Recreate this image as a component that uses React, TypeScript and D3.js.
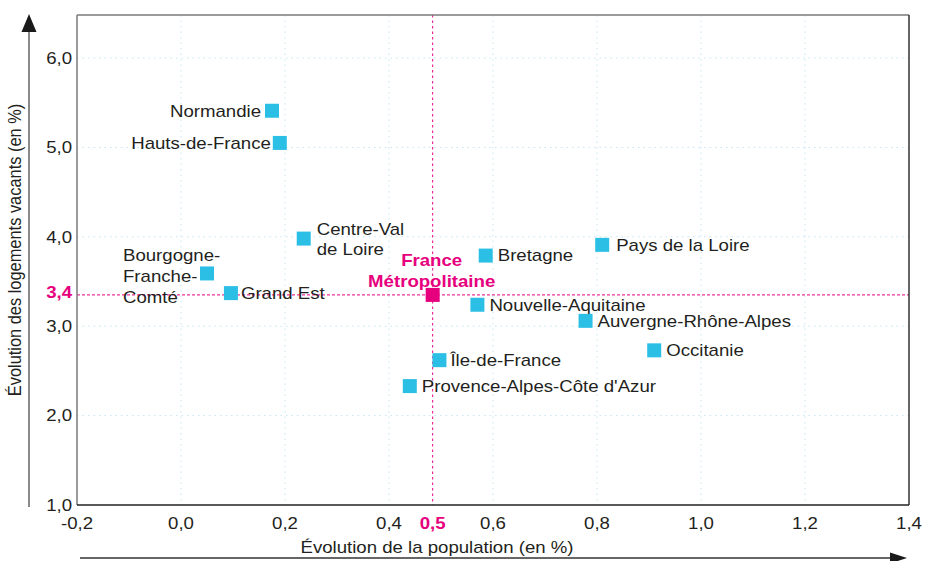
import React from "react";
import * as d3 from "d3";

// regions: population growth (%) vs vacant housing growth (%)
const regions = ["Normandie", "Hauts-de-France", "Centre-Val de Loire", "Bourgogne-Franche-Comté", "Grand Est", "Bretagne", "Pays de la Loire", "Nouvelle-Aquitaine", "Auvergne-Rhône-Alpes", "Occitanie", "Île-de-France", "Provence-Alpes-Côte d'Azur"];
const popGrowth = [0.175, 0.19, 0.236, 0.05, 0.096, 0.586, 0.81, 0.57, 0.778, 0.91, 0.497, 0.44];
const vacantGrowth = [5.41, 5.05, 3.98, 3.59, 3.37, 3.79, 3.91, 3.24, 3.06, 2.73, 2.62, 2.33];

const franceName = ["France", "Métropolitaine"];
const franceX = 0.484;
const franceY = 3.35;
const franceXLabel = "0,5";
const franceYLabel = "3,4";

const xTicks = [-0.2, 0, 0.2, 0.4, 0.6, 0.8, 1.0, 1.2, 1.4];
const yTicks = [1, 2, 3, 4, 5, 6];

const xTitle = "Évolution de la population (en %)";
const yTitle = "Évolution des logements vacants (en %)";

// label placement (lines, offset from marker centre, anchor)
const labelPlacement = {
  "Normandie": { lines: ["Normandie"], dx: -11, dy: [0], anchor: "end" },
  "Hauts-de-France": { lines: ["Hauts-de-France"], dx: -9, dy: [0], anchor: "end" },
  "Centre-Val de Loire": { lines: ["Centre-Val", "de Loire"], dx: 13, dy: [-9, 11], anchor: "start" },
  "Bourgogne-Franche-Comté": { lines: ["Bourgogne-", "Franche-", "Comté"], dx: -84, dy: [-18, 3, 24], anchor: "start" },
  "Grand Est": { lines: ["Grand Est"], dx: 10, dy: [0], anchor: "start" },
  "Bretagne": { lines: ["Bretagne"], dx: 12, dy: [0], anchor: "start" },
  "Pays de la Loire": { lines: ["Pays de la Loire"], dx: 14, dy: [0], anchor: "start" },
  "Nouvelle-Aquitaine": { lines: ["Nouvelle-Aquitaine"], dx: 12, dy: [0], anchor: "start" },
  "Auvergne-Rhône-Alpes": { lines: ["Auvergne-Rhône-Alpes"], dx: 12, dy: [0], anchor: "start" },
  "Occitanie": { lines: ["Occitanie"], dx: 12, dy: [0], anchor: "start" },
  "Île-de-France": { lines: ["Île-de-France"], dx: 11, dy: [0], anchor: "start" },
  "Provence-Alpes-Côte d'Azur": { lines: ["Provence-Alpes-Côte d'Azur"], dx: 12, dy: [0], anchor: "start" },
};

const W = 932, H = 561;
const frame = { left: 77, right: 909, top: 15, bottom: 505 };
const BLUE = "#2bbfe6";
const MAGENTA = "#e6007e";
const INK = "#231f20";
const FONT = "'Liberation Sans', Arial, Helvetica, sans-serif";
const FS = 16.4;
const SX = 1.135; // the reference type is slightly wide

const fmt = (v: number) => d3.format(".1f")(v).replace(".", ",").replace("−", "-");

function Txt({ x, y, children, anchor = "start", fill = INK, weight = "normal", rotate = 0, size = FS }: any) {
  return (
    <text
      transform={`translate(${x},${y}) scale(${SX},1) rotate(${rotate})`}
      textAnchor={anchor}
      fill={fill}
      fontWeight={weight}
      fontFamily={FONT}
      fontSize={size}
    >
      {children}
    </text>
  );
}

export default function App() {
  const x = d3.scaleLinear().domain([-0.2, 1.4]).range([frame.left, frame.right]);
  const y = d3.scaleLinear().domain([1, 6]).range([frame.bottom, 58]);

  const fx = x(franceX), fy = y(franceY);

  return (
    <svg width={W} height={H} style={{ position: "absolute", left: 0, top: 0, background: "#fff" }}>
      <defs>
        <clipPath id="plot">
          <rect x={frame.left} y={frame.top} width={frame.right - frame.left} height={frame.bottom - frame.top} />
        </clipPath>
      </defs>

      {/* grid */}
      <g stroke="#c4e6f3" strokeWidth={1} strokeDasharray="1.5,4">
        {xTicks.slice(1, -1).map(t => (
          <line key={"gx" + t} x1={x(t)} x2={x(t)} y1={frame.top} y2={frame.bottom} />
        ))}
        {yTicks.slice(1).map(t => (
          <line key={"gy" + t} x1={frame.left} x2={frame.right} y1={y(t)} y2={y(t)} />
        ))}
      </g>

      {/* france reference lines */}
      <g stroke={MAGENTA} strokeWidth={1} clipPath="url(#plot)">
        <line x1={frame.left} x2={frame.right} y1={fy} y2={fy} strokeDasharray="3,2" />
        <line x1={fx} x2={fx} y1={frame.top} y2={frame.bottom} strokeDasharray="2.5,3" />
      </g>

      {/* frame */}
      <line x1={frame.left} x2={frame.left} y1={frame.top} y2={frame.bottom} stroke="#7a7a7a" strokeWidth={1.5} />
      <line x1={frame.left} x2={frame.right} y1={frame.top} y2={frame.top} stroke="#7a7a7a" strokeWidth={1.5} />
      <line x1={frame.right} x2={frame.right} y1={frame.top} y2={frame.bottom} stroke="#333" strokeWidth={1.5} />
      <line x1={frame.left} x2={frame.right} y1={frame.bottom} y2={frame.bottom} stroke="#222" strokeWidth={1.5} />

      {/* axis arrows */}
      <line x1={29} x2={29} y1={507} y2={30} stroke="#8a8a8a" strokeWidth={2} />
      <path d="M29,14 L21.5,32 L36.5,32 Z" fill="#1a1a1a" />
      <line x1={80} x2={892} y1={558} y2={558} stroke="#333" strokeWidth={1.5} />
      <path d="M907,558 L890,552.5 L890,563.5 Z" fill="#1a1a1a" />

      {/* tick labels */}
      {yTicks.map(t => (
        <Txt key={"yt" + t} x={72} y={y(t) + 5.8} anchor="end">{fmt(t)}</Txt>
      ))}
      {xTicks.map(t => (
        <Txt key={"xt" + t} x={x(t)} y={529} anchor="middle">{fmt(t)}</Txt>
      ))}
      <Txt x={72} y={fy + 3} anchor="end" fill={MAGENTA} weight="bold">{franceYLabel}</Txt>
      <Txt x={fx} y={529} anchor="middle" fill={MAGENTA} weight="bold">{franceXLabel}</Txt>

      {/* axis titles */}
      <Txt x={437} y={553} anchor="middle">{xTitle}</Txt>
      <Txt x={21} y={250} anchor="middle" rotate={-90}>{yTitle}</Txt>

      {/* region points */}
      {regions.map((r, i) => {
        const cx = x(popGrowth[i]), cy = y(vacantGrowth[i]);
        const p = (labelPlacement as any)[r];
        return (
          <g key={r}>
            <rect x={cx - 7} y={cy - 7} width={14} height={14} fill={BLUE} />
            {p.lines.map((l: string, k: number) => (
              <Txt key={k} x={cx + p.dx} y={cy + p.dy[k] + 5.8} anchor={p.anchor}>{l}</Txt>
            ))}
          </g>
        );
      })}

      {/* France métropolitaine */}
      <rect x={fx - 7} y={fy - 7} width={14} height={14} fill={MAGENTA} />
      {franceName.map((l, k) => (
        <Txt key={l} x={fx - 1} y={fy + [-35, -14][k] + 5.8} anchor="middle" fill={MAGENTA} weight="bold">{l}</Txt>
      ))}
    </svg>
  );
}
